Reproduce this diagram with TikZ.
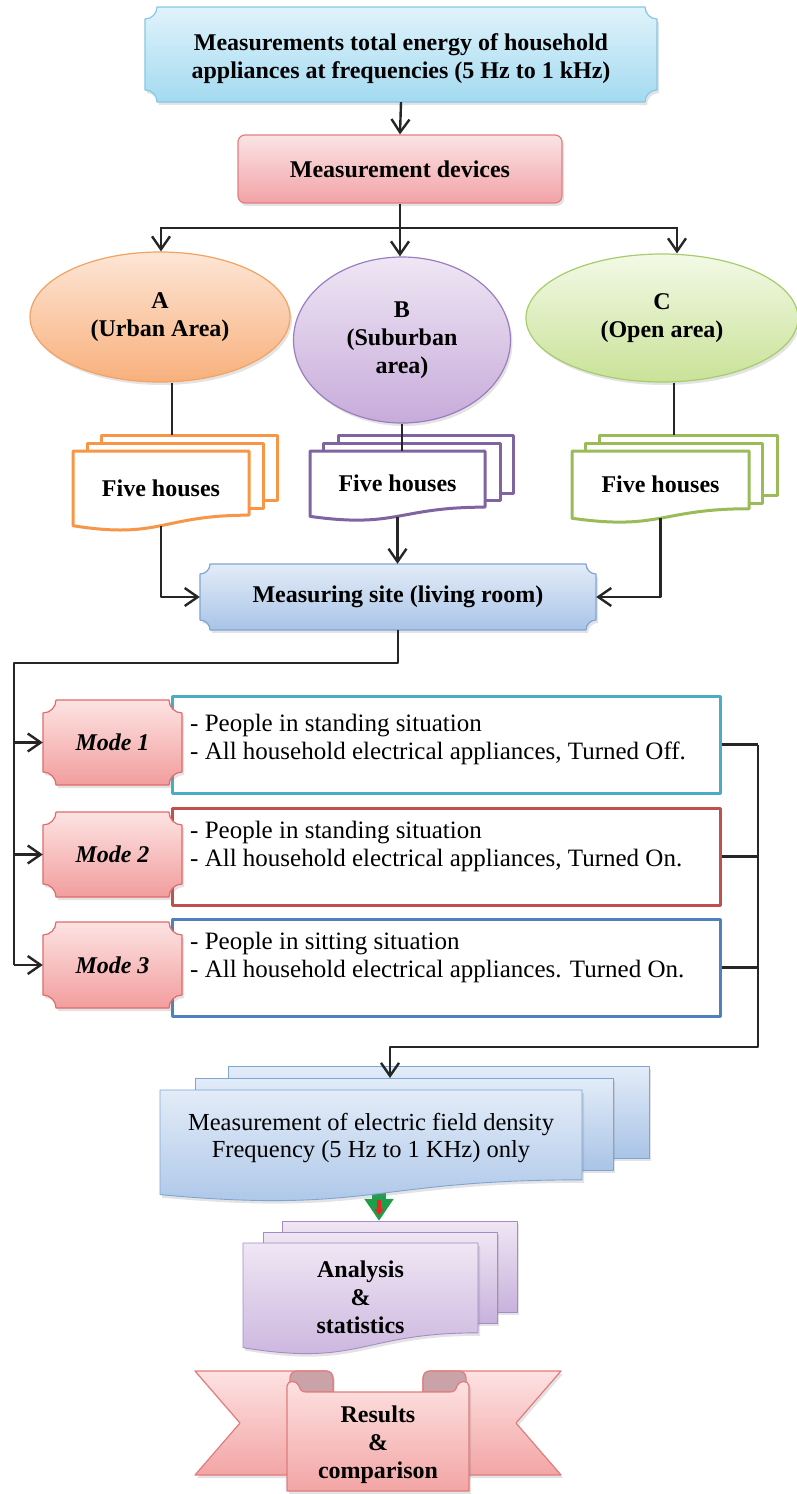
\documentclass[tikz,border=0pt]{standalone}
\usepackage{fontspec}
\setmainfont{Liberation Serif}
\usetikzlibrary{arrows.meta,shadows,shapes.geometric,calc}
\definecolor{topT}{HTML}{E0F3FB}\definecolor{topB}{HTML}{A3DAF0}\definecolor{topD}{HTML}{86C7E3}
\definecolor{mdT}{HTML}{FBE4E5}\definecolor{mdB}{HTML}{F2A2A6}\definecolor{mdD}{HTML}{E27F84}
\definecolor{aT}{HTML}{FDE6D6}\definecolor{aB}{HTML}{F8B07C}\definecolor{aD}{HTML}{F4A261}
\definecolor{bT}{HTML}{EFE6F4}\definecolor{bB}{HTML}{C7ABDA}\definecolor{bD}{HTML}{9A7EC0}
\definecolor{cT}{HTML}{F3F9E6}\definecolor{cB}{HTML}{C9E298}\definecolor{cD}{HTML}{A5CD6B}
\definecolor{colHA}{HTML}{F79646}\definecolor{colHB}{HTML}{8064A2}\definecolor{colHC}{HTML}{9BBB59}
\definecolor{msT}{HTML}{E3ECF8}\definecolor{msB}{HTML}{A9C4E7}\definecolor{msD}{HTML}{7FA5D6}
\definecolor{moT}{HTML}{FDE3E3}\definecolor{moB}{HTML}{F29D9D}\definecolor{moD}{HTML}{E26A6A}
\definecolor{colDa}{HTML}{4BACC6}\definecolor{colDb}{HTML}{C0504D}\definecolor{colDc}{HTML}{4F81BD}
\definecolor{anT}{HTML}{F0E6F4}\definecolor{anB}{HTML}{C8B2DC}\definecolor{anD}{HTML}{A58BC8}
\definecolor{riT}{HTML}{FDE2E2}\definecolor{riB}{HTML}{F3A5A5}\definecolor{riD}{HTML}{E07C7C}\definecolor{riF}{HTML}{C9A3A7}
\definecolor{colGr}{HTML}{1E9E48}\definecolor{colRd}{HTML}{E8262A}
\pgfdeclarelayer{background}
\pgfsetlayers{background,main}
% plaque: x1 y1 x2 y2 r style
\newcommand\myplaque[6]{%
 \path[#6] (#1+#5,#2) -- (#3-#5,#2)
  .. controls (#3-#5,#2+0.552*#5) and (#3-0.552*#5,#2+#5) .. (#3,#2+#5)
  -- (#3,#4-#5)
  .. controls (#3-0.552*#5,#4-#5) and (#3-#5,#4-0.552*#5) .. (#3-#5,#4)
  -- (#1+#5,#4)
  .. controls (#1+#5,#4-0.552*#5) and (#1+0.552*#5,#4-#5) .. (#1,#4-#5)
  -- (#1,#2+#5)
  .. controls (#1+0.552*#5,#2+#5) and (#1+#5,#2+0.552*#5) .. (#1+#5,#2) -- cycle;}
% document: x1 y1 x2 H style
\newcommand\mydoc[5]{%
 \path[#5] (#1,#2) -- (#3,#2) -- (#3,#2+0.802*#4)
  .. controls ({(#1+#3)/2},#2+0.802*#4) and ({(#1+#3)/2},#2+1.108*#4) .. (#1,#2+0.934*#4) -- cycle;}
\begin{document}
\begin{tikzpicture}[x=1pt,y=-1pt,line join=round,
  conn/.style={line width=2.4pt,draw=black!85},
  arr/.style={conn,-{Straight Barb[length=13pt,width=18pt]}},
  fr/.style={inner sep=0pt,align=center},
  bt/.style={font=\fontsize{24}{28}\selectfont\bfseries},
  rt/.style={font=\fontsize{25}{28}\selectfont},
  shad/.style={drop shadow={opacity=0.22,shadow xshift=2pt,shadow yshift=-3pt}},
  hs/.style={draw=#1,line width=3pt,fill=white},
  grad/.style n args={3}{draw=#1,line width=1.2pt,top color=#2,bottom color=#3},
]
\useasboundingbox (0,0) rectangle (797,1494);

% ---------- top box
\myplaque{145}{7}{657}{102}{12}{grad={topD}{topT}{topB},shad}
\node[fr,bt,minimum width=512pt,minimum height=86pt] (top) at (401,59)
  {Measurements total energy of household\\appliances at frequencies (5 Hz to 1 kHz)};

% ---------- measurement devices
\node[grad={mdD}{mdT}{mdB},shad,rounded corners=7pt,bt,minimum width=324pt,minimum height=68pt,inner sep=0pt] (md) at (400,169) {Measurement devices};

% ---------- areas
\node[ellipse,grad={aD}{aT}{aB},shad,bt,fr,minimum width=260pt,minimum height=130pt] (A) at (160,317) {A\\(Urban Area)};
\node[ellipse,grad={bD}{bT}{bB},shad,bt,fr,minimum width=217pt,minimum height=166pt] (B) at (402,340) {B\\(Suburban\\area)};
\node[ellipse,grad={cD}{cT}{cB},shad,bt,fr,minimum width=272pt,minimum height=128pt] (C) at (662,318) {C\\(Open area)};

% ---------- houses stacks
\path[hs=colHA] (101,435) rectangle (277,500);
\path[hs=colHA] (87,443) rectangle (263,508);
\mydoc{73}{451}{249}{80}{hs=colHA}
\node[fr,minimum width=176pt,minimum height=65pt] (hAk) at (189,467.5) {};
\node[fr,bt,minimum width=176pt,minimum height=74.6pt] (hA) at (161,488.3) {Five houses};

\path[hs=colHB] (338,435) rectangle (513,493);
\path[hs=colHB] (323,443) rectangle (500,500);
\mydoc{310}{451}{485}{70}{hs=colHB}
\node[fr,minimum width=175pt,minimum height=58pt] (hBk) at (425.5,464) {};
\node[fr,bt,minimum width=175pt,minimum height=65.3pt] (hB) at (397.5,483.7) {Five houses};

\path[hs=colHC] (599,435) rectangle (777,495);
\path[hs=colHC] (585,443) rectangle (762,503);
\mydoc{572}{451}{749}{72}{hs=colHC}
\node[fr,minimum width=178pt,minimum height=60pt] (hCk) at (688,465) {};
\node[fr,bt,minimum width=177pt,minimum height=67.2pt] (hC) at (660.5,484.6) {Five houses};

% ---------- measuring site
\myplaque{200}{564}{596}{630}{10}{grad={msD}{msT}{msB},shad}
\node[fr,bt,minimum width=396pt,minimum height=66pt] (ms) at (398,597) {Measuring site (living room)};

% ---------- description boxes
\node[draw=colDa,line width=3pt,fill=white,minimum width=548pt,minimum height=97pt,inner sep=0pt] (d1) at (446,744.5) {};
\node[draw=colDb,line width=3pt,fill=white,minimum width=548pt,minimum height=97pt,inner sep=0pt] (d2) at (446,856.5) {};
\node[draw=colDc,line width=3pt,fill=white,minimum width=548pt,minimum height=97pt,inner sep=0pt] (d3) at (446,967.5) {};
\node[rt,anchor=west,align=left,inner sep=0pt] (t1) at (190,739) {- People in standing situation\\- All household electrical appliances, Turned Off.};
\node[rt,anchor=west,align=left,inner sep=0pt] (t2) at (190,846) {- People in standing situation\\- All household electrical appliances, Turned On.};
\node[rt,anchor=west,align=left,inner sep=0pt] (t3) at (190,957.5) {- People in sitting situation\\- All household electrical appliances. Turned On.};

% ---------- modes
\myplaque{43}{700}{182}{785}{13}{grad={moD}{moT}{moB},shad}
\myplaque{43}{812}{182}{897}{13}{grad={moD}{moT}{moB},shad}
\myplaque{43}{922}{182}{1008}{13}{grad={moD}{moT}{moB},shad}
\node[fr,bt,minimum width=139pt,minimum height=85pt] (m1) at (112.5,742.5) {\itshape Mode 1};
\node[fr,bt,minimum width=139pt,minimum height=85pt] (m2) at (112.5,854.5) {\itshape Mode 2};
\node[fr,bt,minimum width=139pt,minimum height=86pt] (m3) at (112.5,965) {\itshape Mode 3};

% ---------- measurement stack
\path[grad={msD}{msT}{msB},line width=0.9pt,shad] (228,1066) rectangle (649,1158);
\path[grad={msD}{msT}{msB},line width=0.9pt,shad] (195,1078) rectangle (613,1170);
\mydoc{160}{1090}{582}{112}{grad={msD}{msT}{msB},line width=0.9pt,shad}
\coordinate (mIn) at (390,1078);
\node[fr,rt,font=\fontsize{24.5}{27}\selectfont,minimum width=422pt,minimum height=96pt] (mF) at (371,1138)
  {Measurement of electric field density\\Frequency (5 Hz to 1 KHz) only};

% ---------- analysis stack
\path[grad={anD}{anT}{anB},line width=0.9pt,shad] (282,1221) rectangle (517,1312);
\path[grad={anD}{anT}{anB},line width=0.9pt,shad] (263,1232) rectangle (497,1323);
\mydoc{243}{1243}{478}{112}{grad={anD}{anT}{anB},line width=0.9pt,shad}
\node[fr,minimum width=235pt,minimum height=91pt] (aK) at (399.5,1266.5) {};
\node[fr,bt,minimum width=235pt,minimum height=100pt] (an) at (360.5,1297) {Analysis\\\&\\statistics};

% ---------- ribbon
\path[grad={riD}{riT}{riB},shad] (195,1371) -- (326,1371) .. controls (330.5,1371) and (333,1374) .. (333,1379)
   -- (333,1475) -- (195,1475) -- (240,1423) -- cycle;
\path[grad={riD}{riT}{riB},shad] (561,1371) -- (430,1371) .. controls (425.5,1371) and (423,1374) .. (423,1379)
   -- (423,1475) -- (561,1475) -- (516,1423) -- cycle;
\path[draw=riD,line width=1.2pt,fill=riF] (290,1392) -- (290,1378) .. controls (290,1374) and (293,1371) .. (297,1371)
   -- (326,1371) .. controls (330.5,1371) and (333,1374) .. (333,1379) -- (333,1392) -- cycle;
\path[draw=riD,line width=1.2pt,fill=riF] (466,1392) -- (466,1378) .. controls (466,1374) and (463,1371) .. (459,1371)
   -- (430,1371) .. controls (425.5,1371) and (423,1374) .. (423,1379) -- (423,1392) -- cycle;
\path[grad={riD}{riT}{riB},shad] (287,1491) -- (287,1386) .. controls (287,1380) and (297,1380) .. (299,1386)
   .. controls (300,1390) and (302,1392) .. (306,1392) -- (450,1392) .. controls (454,1392) and (456,1390) .. (457,1386)
   .. controls (459,1380) and (469,1380) .. (469,1386) -- (469,1491) -- cycle;
\node[fr,bt,minimum width=182pt,minimum height=95pt] (res) at (378,1445) {Results\\\&\\comparison};

% ---------- connectors
\draw[arr] (top.south) -- (md.north);
\coordinate (jL) at (161,228);
\coordinate (jR) at (677,228);
\draw[conn] (md.south) -- (md.south |- jL);
\draw[conn,line cap=rect] (jL) -- (jR);
\draw[arr] (jL) -- (jL |- A.north);
\draw[arr] (md.south |- jL) -- (md.south |- B.north);
\draw[arr] (jR) -- (jR |- C.north);

\draw[conn] ([xshift=12pt]A.south) -- ([xshift=12pt]A.south |- hAk.north);
\draw[conn] (B.south) -- (B.south |- hB.north);
\draw[conn] ([xshift=12pt]C.south) -- ([xshift=12pt]C.south |- hCk.north);

\draw[arr] (hA.south) |- (ms.west);
\draw[arr] (hB.south) -- (hB.south |- ms.north);
\draw[arr] (hC.south) |- (ms.east);

\coordinate (lb) at (14,663);
\draw[conn] (ms.south) |- (lb) -- (lb |- m3.west);
\draw[arr] (lb |- m1.west) -- (m1.west);
\draw[arr] (lb |- m2.west) -- (m2.west);
\draw[arr] (lb |- m3.west) -- (m3.west);

\coordinate (rb) at (758,1047);
\draw[conn] (d1.east) -- (d1.east -| rb);
\draw[conn] (d2.east) -- (d2.east -| rb);
\draw[conn] (d3.east) -- (d3.east -| rb);
\draw[arr] (d1.east -| rb) -- (rb) -- (rb -| mIn) -- (mIn);

\begin{pgfonlayer}{background}
\draw[line width=14pt,draw=colGr,-{Triangle[width=28pt,length=22pt]}] ([xshift=8pt]mF.south) -- ([xshift=8pt]mF.south |- aK.north);
\end{pgfonlayer}
\draw[line width=4pt,draw=colRd,-{Triangle[width=9pt,length=6pt]}] (379,1200) -- (379,1215);
\end{tikzpicture}
\end{document}
